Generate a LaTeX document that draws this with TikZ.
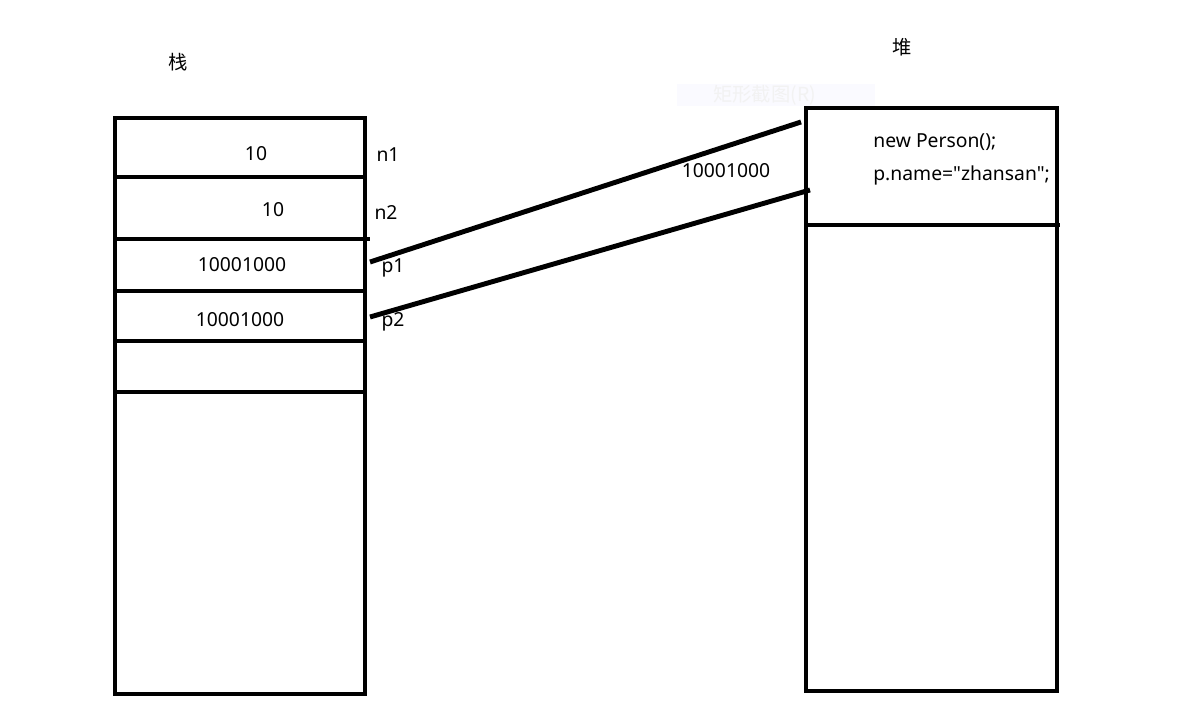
\documentclass[tikz,border=0pt]{standalone}
\usepackage{fontspec}
\setmainfont{Noto Sans}[Ligatures=TeXOff]
\newfontfamily\cjk{Noto Sans CJK SC}
\begin{document}
\begin{tikzpicture}[x=0.02cm, y=-0.02cm, line width=2.8pt, font=\fontsize{11}{13}\selectfont]
	\useasboundingbox (0, 0) rectangle (1179, 722);
	
	% Titles
	\node (stacktitle) at (178, 62) {\cjk 栈};
	\node (heaptitle) at (902, 47) {\cjk 堆};
	
	% Faint screenshot hint
	\fill[blue!2] (677, 84) rectangle (875, 106);
	\node[text=black!5, anchor=west] (hint) at (705, 95) {\cjk 矩形截图(R)};
	
	% Stack
	\draw (115, 118) rectangle (365, 694);
	\draw (115, 177) -- (365, 177);
	\draw (115, 239) -- (370, 239);
	\draw (115, 291) -- (365, 291);
	\draw (115, 341) -- (365, 341);
	\draw (115, 392) -- (365, 392);
	\node (v1) at (256, 154) {10};
	\node (v2) at (273, 210) {10};
	\node (v3) at (242, 265) {10001000};
	\node (v4) at (240, 320) {10001000};
	\node (n1) at (388, 155) {n1};
	\node (n2) at (386, 213) {n2};
	\node (p1) at (393, 268) {p1};
	\node (p2) at (393, 322) {p2};
	
	% Heap
	\draw (806, 108) rectangle (1057, 691);
	\draw (806, 225) -- (1060, 225);
	\node[anchor=west] (obj1) at (865, 142) {new Person();};
	\node[anchor=west] (obj2) at (865, 175) {p.name="zhansan";};
	\node (addr) at (726, 171) {10001000};
	
	% References from stack to heap
	\coordinate (p1out) at (370, 262);
	\coordinate (p2out) at (370, 317);
	\coordinate (objin1) at (801, 122);
	\coordinate (objin2) at (810, 190);
	\draw (p1out) -- (objin1);
	\draw (p2out) -- (objin2);
\end{tikzpicture}
\end{document}
